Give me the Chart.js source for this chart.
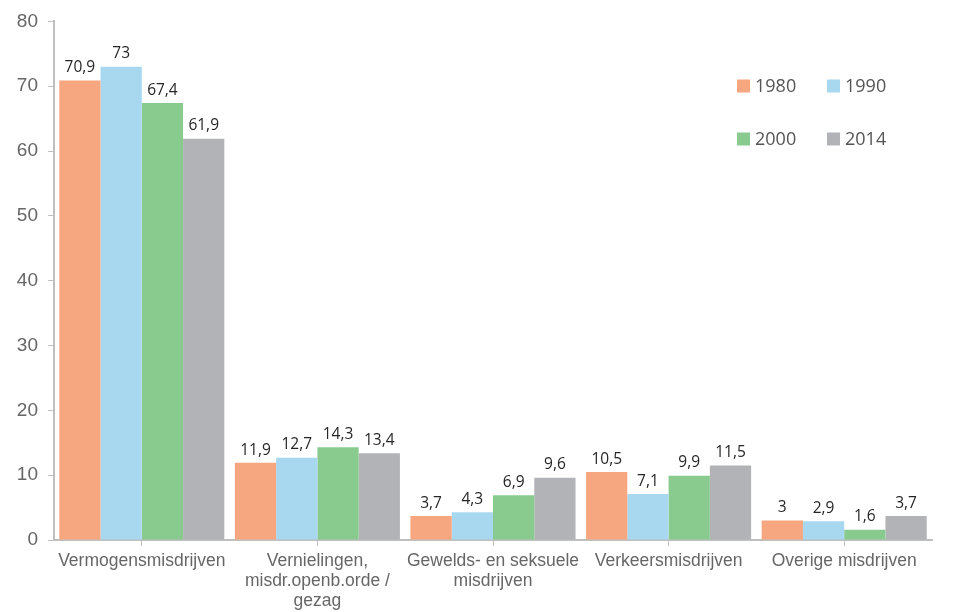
<!DOCTYPE html>
<html>
<head>
<meta charset="utf-8">
<script src="https://cdn.jsdelivr.net/npm/chart.js@4/dist/chart.umd.min.js"></script>
<style>
  html, body { margin: 0; padding: 0; background: #fff; }
  #wrap { width: 960px; height: 612px; }
</style>
</head>
<body>
<div id="wrap"><canvas id="myChart" width="960" height="612"></canvas></div>
<script>
const categories = [
    "Vermogensmisdrijven",
    ["Vernielingen,", "misdr.openb.orde /", "gezag"],
    ["Gewelds- en seksuele", "misdrijven"],
    "Verkeersmisdrijven",
    "Overige misdrijven"
];
const years = ["1980", "1990", "2000", "2014"];
const values1980 = [70.9, 11.9, 3.7, 10.5, 3];
const values1990 = [73, 12.7, 4.3, 7.1, 2.9];
const values2000 = [67.4, 14.3, 6.9, 9.9, 1.6];
const values2014 = [61.9, 13.4, 9.6, 11.5, 3.7];
const yTicks = [0, 10, 20, 30, 40, 50, 60, 70, 80];

const colors = {
    orange: "rgb(247, 167, 128)",
    blue: "rgb(168, 216, 240)",
    green: "rgb(137, 203, 143)",
    grey: "rgb(178, 179, 183)",
    axis: "#bfbfbf",
    text: "#666666"
};

// value labels above each bar, Dutch decimal comma
const barLabels = {
    id: "barLabels",
    afterDatasetsDraw(chart) {
        const ctx = chart.ctx;
        ctx.save();
        ctx.font = "15.5px 'Open Sans'";
        ctx.fillStyle = "#262626";
        ctx.textAlign = "center";
        ctx.textBaseline = "bottom";
        chart.data.datasets.forEach((ds, i) => {
            chart.getDatasetMeta(i).data.forEach((bar, j) => {
                ctx.fillText(String(ds.data[j]).replace(".", ","), bar.x, bar.y - 5);
            });
        });
        ctx.restore();
    }
};

// 2 x 2 legend at the upper right
const gridLegend = {
    id: "gridLegend",
    afterDraw(chart) {
        const ctx = chart.ctx;
        ctx.save();
        ctx.font = "18px 'Open Sans'";
        ctx.textBaseline = "middle";
        ctx.textAlign = "left";
        chart.data.datasets.forEach((ds, i) => {
            const x = 737 + (i % 2) * 90;
            const y = 86 + Math.floor(i / 2) * 53;
            ctx.fillStyle = ds.backgroundColor;
            ctx.fillRect(x, y - 6.5, 13, 13);
            ctx.fillStyle = "#555555";
            ctx.fillText(ds.label, x + 18, y + 1);
        });
        ctx.restore();
    }
};

const ctx = document.getElementById("myChart").getContext("2d");
new Chart(ctx, {
    type: "bar",
    data: {
        labels: categories,
        datasets: [
            {label: years[0], data: values1980, backgroundColor: colors.orange},
            {label: years[1], data: values1990, backgroundColor: colors.blue},
            {label: years[2], data: values2000, backgroundColor: colors.green},
            {label: years[3], data: values2014, backgroundColor: colors.grey}
        ]
    },
    options: {
        responsive: false,
        animation: false,
        layout: {padding: {top: 17, right: 28, bottom: 0, left: 0}},
        datasets: {
            bar: {categoryPercentage: 0.94, barPercentage: 1, borderWidth: 0}
        },
        scales: {
            x: {
                grid: {display: true, drawOnChartArea: false, drawTicks: true, tickLength: 6, color: colors.axis, offset: false},
                border: {color: colors.axis, width: 2},
                ticks: {
                    color: colors.text,
                    font: {family: "'Liberation Sans'", size: 17.5, lineHeight: 1.15},
                    padding: 5,
                    maxRotation: 0,
                    autoSkip: false
                },
                afterFit(scale) { scale.height = 72; }
            },
            y: {
                min: 0,
                max: 80,
                afterBuildTicks(scale) { scale.ticks = yTicks.map(v => ({value: v})); },
                grid: {display: true, drawOnChartArea: false, drawTicks: true, tickLength: 6, color: colors.axis},
                border: {color: colors.axis, width: 2},
                ticks: {
                    color: colors.text,
                    font: {family: "'Liberation Sans'", size: 19},
                    padding: 10
                },
                afterFit(scale) { scale.width = 54; }
            }
        },
        plugins: {
            legend: {display: false},
            tooltip: {enabled: false}
        }
    },
    plugins: [barLabels, gridLegend]
});
</script>
</body>
</html>
